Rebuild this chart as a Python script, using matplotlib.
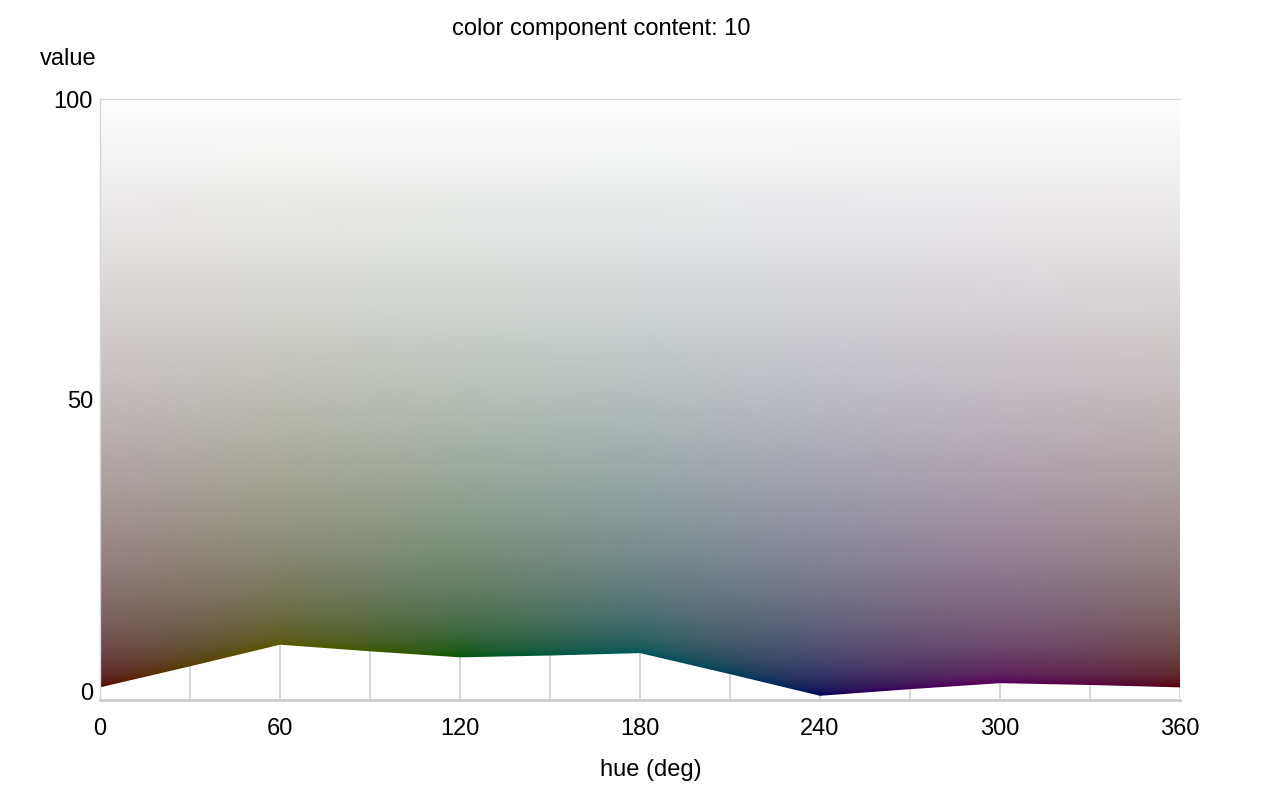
import numpy as np
import matplotlib
matplotlib.use("Agg")
from matplotlib import pyplot as plt
from matplotlib.colors import hsv_to_rgb
from matplotlib.patches import Polygon

plt.rcParams['font.family'] = ['Liberation Sans', 'DejaVu Sans']

# lower edge of the colour area
hue = [0, 30, 60, 90, 120, 150, 180, 210, 240, 270, 300, 330, 360]
value = [2.1, 5.6, 9.2, 8.1, 7.1, 7.4, 7.8, 4.3, 0.7, 1.8, 2.8, 2.5, 2.1]
content = 10
x_ticks = [0, 60, 120, 180, 240, 300, 360]
y_ticks = [0, 50, 100]

# colour field: pure hue at the given component content, mixed with white
# (linear light) until the luminance equals the value
H, V = np.meshgrid(np.linspace(0, 360, 1081), np.linspace(0, 100, 601))
hsv = np.stack([H / 360.0 % 1.0, np.ones_like(H), np.ones_like(H)], axis=-1)
base = hsv_to_rgb(hsv) * content / 100.0
lum = base @ np.array([0.2126, 0.7152, 0.0722])
t = np.clip((V / 100.0 - lum) / (1 - lum), 0, 1)[..., None]
lin = np.clip(base * (1 - t) + t, 0, 1)
srgb = np.where(lin <= 0.0031308, 12.92 * lin, 1.055 * lin ** (1 / 2.4) - 0.055)

fig = plt.figure(figsize=(12.8, 8), dpi=100)
ax = fig.add_axes([100 / 1280, 100 / 800, 1080 / 1280, 601 / 800])

im = ax.imshow(srgb, origin='lower', extent=[0, 360, 0, 100], aspect='auto',
               interpolation='bilinear', zorder=2)
poly = Polygon(list(zip(hue, value)) + [(360, 100), (0, 100)], closed=True,
               transform=ax.transData)
im.set_clip_path(poly)

ax.set_xlim(0, 360)
ax.set_ylim(0, 100)
ax.set_xticks(x_ticks)
ax.set_xticks(range(0, 361, 30), minor=True)
ax.set_yticks(y_ticks)
ax.grid(True, axis='x', which='both', color='#d6d6d6', lw=1.5, zorder=1)
ax.tick_params(axis='both', which='both', length=0, labelsize=17)
ax.tick_params(axis='x', pad=13)
ax.tick_params(axis='y', pad=5)
ax.yaxis.get_majorticklabels()[0].set_va('baseline')

ax.spines['right'].set_visible(False)
ax.spines['left'].set_color('#d6d6d6')
ax.spines['top'].set_color('#d6d6d6')
ax.spines['bottom'].set_color('#cccccc')
ax.spines['bottom'].set_linewidth(2)
ax.spines['left'].set_linewidth(1)
ax.spines['top'].set_linewidth(1)

fig.text(601 / 1280, 1 - 29 / 800, 'color component content: 10', ha='center', va='center', fontsize=17)
fig.text(40 / 1280, 1 - 59 / 800, 'value', ha='left', va='center', fontsize=17)
fig.text(651 / 1280, 1 - 770 / 800, 'hue (deg)', ha='center', va='center', fontsize=17)

fig.savefig('out.png', dpi=100)
